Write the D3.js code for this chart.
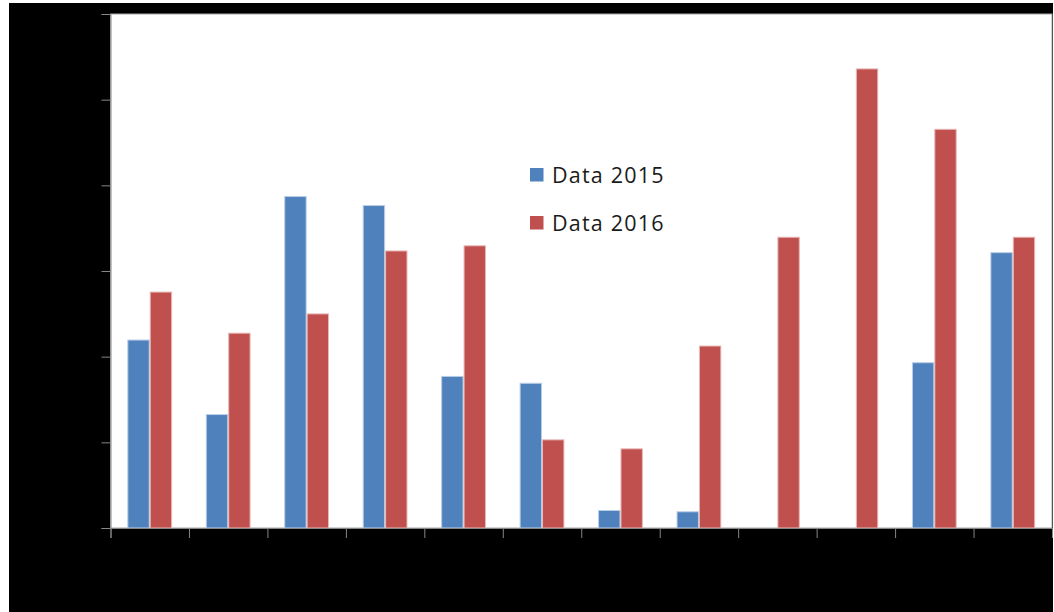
<!DOCTYPE html>
<html>
<head>
<meta charset="utf-8">
<script src="https://cdn.jsdelivr.net/npm/d3@7"></script>
<style>
	html, body { margin: 0; padding: 0; background: #fff; }
	svg { display: block; }
</style>
</head>
<body>
<div id="chart"></div>
<script>
// chart values
var months = ["Jan", "Feb", "Mar", "Apr", "May", "Jun", "Jul", "Aug", "Sep", "Oct", "Nov", "Dec"];
var seriesNames = ["Data 2015", "Data 2016"];
var data2015 = [22.0, 13.3, 38.75, 37.7, 17.75, 16.95, 2.1, 1.95, 0, 0, 19.35, 32.2];
var data2016 = [27.6, 22.8, 25.05, 32.4, 33.0, 10.35, 9.3, 21.3, 34.0, 53.65, 46.6, 34.0];
var yTicks = [0, 10, 20, 30, 40, 50, 60];

function BarChart() {
	var width = 1054, height = 612;
	var left = 110.5, right = 1052, top = 14, bottom = 528;
	var colors = ["#4f81bd", "#c0504d"];
	var edges = ["#b9cde5", "#e6b9b8"];

	var svg = d3.select("#chart").append("svg")
		.attr("width", width)
		.attr("height", height);

	// black frame round the plot
	svg.append("rect")
		.attr("x", 9).attr("y", 3)
		.attr("width", 1044).attr("height", height - 3)
		.attr("fill", "#000");

	svg.append("rect")
		.attr("x", left).attr("y", top)
		.attr("width", right - left).attr("height", bottom - top)
		.attr("fill", "#fff")
		.attr("stroke", "#a6a6a6")
		.attr("stroke-width", 1);

	var x0 = d3.scaleBand()
		.domain(months)
		.range([left, right])
		.paddingInner(0.429)
		.paddingOuter(0.2145);

	var x1 = d3.scaleBand()
		.domain(seriesNames)
		.range([0, x0.bandwidth()]);

	var y = d3.scaleLinear()
		.domain([0, 60])
		.range([bottom, top]);

	var rows = months.map(function (m, i) {
		return {month: m, values: [data2015[i], data2016[i]]};
	});

	var groups = svg.append("g").selectAll("g")
		.data(rows)
		.enter().append("g")
		.attr("transform", function (d) { return "translate(" + x0(d.month) + ",0)"; });

	groups.selectAll("rect")
		.data(function (d) {
			return d.values.map(function (v, k) { return {name: seriesNames[k], k: k, value: v}; });
		})
		.enter().filter(function (d) { return d.value > 0; })
		.append("rect")
		.attr("x", function (d) { return x1(d.name) + 0.5; })
		.attr("y", function (d) { return y(d.value) + 0.5; })
		.attr("width", x1.bandwidth() - 1)
		.attr("height", function (d) { return y(0) - y(d.value) - 0.5; })
		.attr("fill", function (d) { return colors[d.k]; })
		.attr("stroke", function (d) { return edges[d.k]; })
		.attr("stroke-width", 1);

	// y axis, labels are black on black like the source
	var yAxis = d3.axisLeft(y).tickValues(yTicks).tickSize(9).tickPadding(6);
	var gy = svg.append("g")
		.attr("transform", "translate(" + left + ",0)")
		.call(yAxis);
	gy.selectAll("line, path").attr("stroke", "#868686");
	gy.selectAll("text").attr("fill", "#000").style("font", "14px 'Liberation Sans', Arial, sans-serif");

	// x axis ticks sit between the categories
	var xEdge = d3.scaleLinear().domain([0, months.length]).range([left, right]);
	var xAxis = d3.axisBottom(xEdge).tickValues(d3.range(months.length + 1))
		.tickSize(10).tickFormat("");
	var gx = svg.append("g")
		.attr("transform", "translate(0," + bottom + ")")
		.call(xAxis);
	gx.selectAll("line, path").attr("stroke", "#868686");

	svg.append("g").selectAll("text")
		.data(months)
		.enter().append("text")
		.attr("x", function (d) { return x0(d) + x0.bandwidth() / 2; })
		.attr("y", bottom + 30)
		.attr("text-anchor", "middle")
		.attr("fill", "#000")
		.style("font", "14px 'Liberation Sans', Arial, sans-serif")
		.text(function (d) { return d; });

	// legend
	var legend = svg.append("g").selectAll("g")
		.data(seriesNames)
		.enter().append("g")
		.attr("transform", function (d, i) { return "translate(530," + (168 + i * 48) + ")"; });

	legend.append("rect")
		.attr("width", 13.5).attr("height", 13.5)
		.attr("fill", function (d, i) { return colors[i]; });

	legend.append("text")
		.attr("x", 22).attr("y", 14.5)
		.attr("fill", "#1a1a1a")
		.style("font-family", "'Open Sans', sans-serif")
		.style("font-size", "21.5px")
		.style("letter-spacing", "1.2px")
		.text(function (d) { return d; });
}

BarChart();
</script>
</body>
</html>
